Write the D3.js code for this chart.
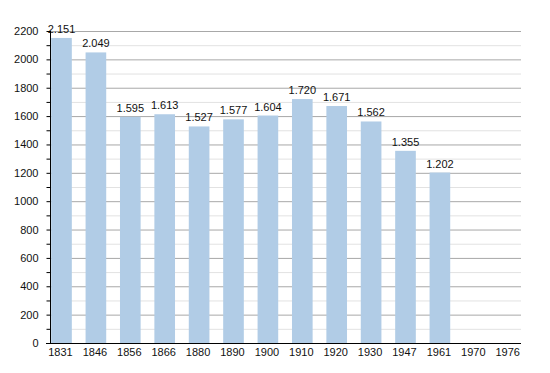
<!DOCTYPE html>
<html>
<head>
<meta charset="utf-8">
<script src="https://cdn.jsdelivr.net/npm/d3@7"></script>
<style>
body{margin:0;background:#fff;}
text{font-family:"Liberation Sans",Arial,sans-serif;}
</style>
</head>
<body>
<div id="chart"></div>
<script>
var WIDTH=550, HEIGHT=373;

// datos
var years=["1831","1846","1856","1866","1880","1890","1900","1910","1920","1930","1947","1961","1970","1976"];
var population=[2151,2049,1595,1613,1527,1577,1604,1720,1671,1562,1355,1202,null,null];
var labels=["2.151","2.049","1.595","1.613","1.527","1.577","1.604","1.720","1.671","1.562","1.355","1.202","",""];
var yTicks=[0,200,400,600,800,1000,1200,1400,1600,1800,2000,2200];
var yMinor=[100,300,500,700,900,1100,1300,1500,1700,1900,2100];

var LEFT=50, RIGHT=521, TOP=31, BOTTOM=343;

var svg=d3.select("#chart").append("svg")
  .attr("width",WIDTH)
  .attr("height",HEIGHT);

var scaleX=d3.scaleBand()
  .domain(years)
  .range([44.3,525.9])
  .paddingInner(0.4)
  .paddingOuter(0.2);

var scaleY=d3.scaleLinear()
  .domain([0,2200])
  .range([BOTTOM,TOP]);

// grid menor
svg.append("g").selectAll("line")
  .data(yMinor).enter().append("line")
  .attr("x1",LEFT).attr("x2",RIGHT)
  .attr("y1",function(d){return scaleY(d)+0.5})
  .attr("y2",function(d){return scaleY(d)+0.5})
  .style("stroke","#e2e2e2").style("stroke-width","1px");

// grid mayor
svg.append("g").selectAll("line")
  .data(yTicks.filter(function(d){return d>0})).enter().append("line")
  .attr("x1",LEFT).attr("x2",RIGHT)
  .attr("y1",function(d){return scaleY(d)+0.5})
  .attr("y2",function(d){return scaleY(d)+0.5})
  .style("stroke","#a8a8a8").style("stroke-width","1px");

// barras
var data=years.map(function(y,i){return {year:y,value:population[i],label:labels[i]}})
  .filter(function(d){return d.value!=null});

svg.append("g").selectAll("rect")
  .data(data).enter().append("rect")
  .attr("x",function(d){return scaleX(d.year)})
  .attr("y",function(d){return scaleY(d.value)})
  .attr("width",scaleX.bandwidth())
  .attr("height",function(d){return BOTTOM-scaleY(d.value)})
  .style("fill","#b1cce6");

svg.append("g").selectAll("text")
  .data(data).enter().append("text")
  .attr("x",function(d){return scaleX(d.year)+scaleX.bandwidth()/2})
  .attr("y",function(d){return scaleY(d.value)-5})
  .style("text-anchor","middle")
  .style("font-size","11px")
  .style("fill","#111")
  .text(function(d){return d.label});

// eje Y
var yAxis=d3.axisLeft(scaleY).tickValues(d3.range(0,2201,100)).tickSize(4)
  .tickFormat(function(d){return d%200==0 ? d : ""});
var gy=svg.append("g")
  .attr("transform","translate("+(LEFT+0.5)+",0)")
  .call(yAxis);
gy.select(".domain").remove();
gy.selectAll("line").style("stroke","#000");
gy.selectAll("text").attr("x",-12).style("font-size","11px").style("font-family","Liberation Sans, Arial, sans-serif").style("fill","#111");

svg.append("line")
  .attr("x1",LEFT+0.5).attr("x2",LEFT+0.5)
  .attr("y1",TOP).attr("y2",BOTTOM+1)
  .style("stroke","#000");

// eje X
svg.append("line")
  .attr("x1",LEFT-4).attr("x2",RIGHT)
  .attr("y1",BOTTOM+0.5).attr("y2",BOTTOM+0.5)
  .style("stroke","#000");

svg.append("g").selectAll("text")
  .data(years).enter().append("text")
  .attr("x",function(d){return scaleX(d)+scaleX.bandwidth()/2-1})
  .attr("y",BOTTOM+13)
  .style("text-anchor","middle")
  .style("font-size","11px")
  .style("fill","#111")
  .text(function(d){return d});
</script>
</body>
</html>
